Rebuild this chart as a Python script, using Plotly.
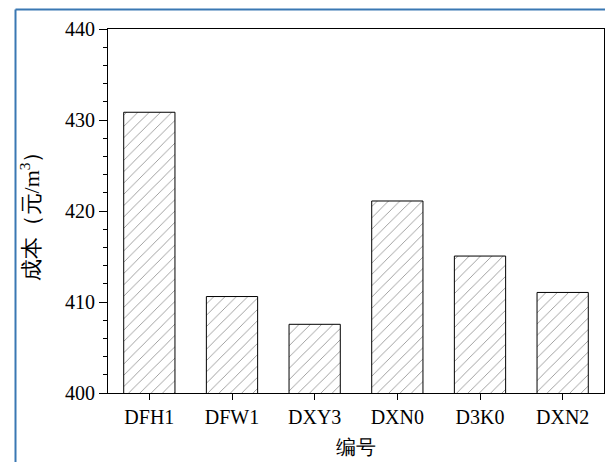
import plotly.graph_objects as go

# Unit cost per mix code
codes = ["DFH1", "DFW1", "DXY3", "DXN0", "D3K0", "DXN2"]
costs = [430.85, 410.6, 407.55, 421.1, 415.05, 411.05]

W, H = 605, 462
ML, MR, MT, MB = 108, 1, 29, 69
PW, PH = W - ML - MR, H - MT - MB

serif = "Liberation Serif"

fig = go.Figure(
    go.Bar(
        x=codes,
        y=costs,
        width=0.62,
        marker=dict(
            color="white",
            line=dict(color="black", width=1),
            pattern=dict(shape="/", fgcolor="#2a2a2a", bgcolor="white", size=8, solidity=0.11),
        ),
    )
)


def px_x(p):
    return (p - ML) / PW


def px_y(p):
    return 1 - (p - MT) / PH


# blue frame around the figure panel
frame_color = "#3a78b3"
fig.add_shape(type="line", xref="paper", yref="paper",
              x0=px_x(15.5), x1=px_x(W + 5), y0=px_y(9.5), y1=px_y(9.5),
              line=dict(color=frame_color, width=2))
fig.add_shape(type="line", xref="paper", yref="paper",
              x0=px_x(15.5), x1=px_x(15.5), y0=px_y(9.5), y1=px_y(H + 5),
              line=dict(color=frame_color, width=2))

fig.update_layout(
    width=W,
    height=H,
    margin=dict(l=ML, r=MR, t=MT, b=MB),
    paper_bgcolor="white",
    plot_bgcolor="white",
    showlegend=False,
    font=dict(family=serif, size=20, color="black"),
    xaxis=dict(
        range=[-0.5, 5.5],
        showline=True, linecolor="black", linewidth=1, mirror=True,
        ticks="outside", ticklen=6, tickcolor="black", tickwidth=1,
        showgrid=False, zeroline=False,
        tickfont=dict(family=serif, size=20, color="black"),
        title=dict(text="编号", font=dict(family=serif, size=20, color="black"), standoff=12),
    ),
    yaxis=dict(
        range=[400, 440],
        dtick=10, tick0=400,
        showline=True, linecolor="black", linewidth=1, mirror=True,
        ticks="outside", ticklen=8, tickcolor="black", tickwidth=1,
        minor=dict(dtick=2, ticks="outside", ticklen=4, tickcolor="black", tickwidth=1, showgrid=False),
        showgrid=False, zeroline=False,
        tickfont=dict(family=serif, size=20, color="black"),
        title=dict(text="成本（元/m<sup>3</sup>）", font=dict(family=serif, size=22, color="black"), standoff=19),
    ),
)

fig.write_html("out.html")
